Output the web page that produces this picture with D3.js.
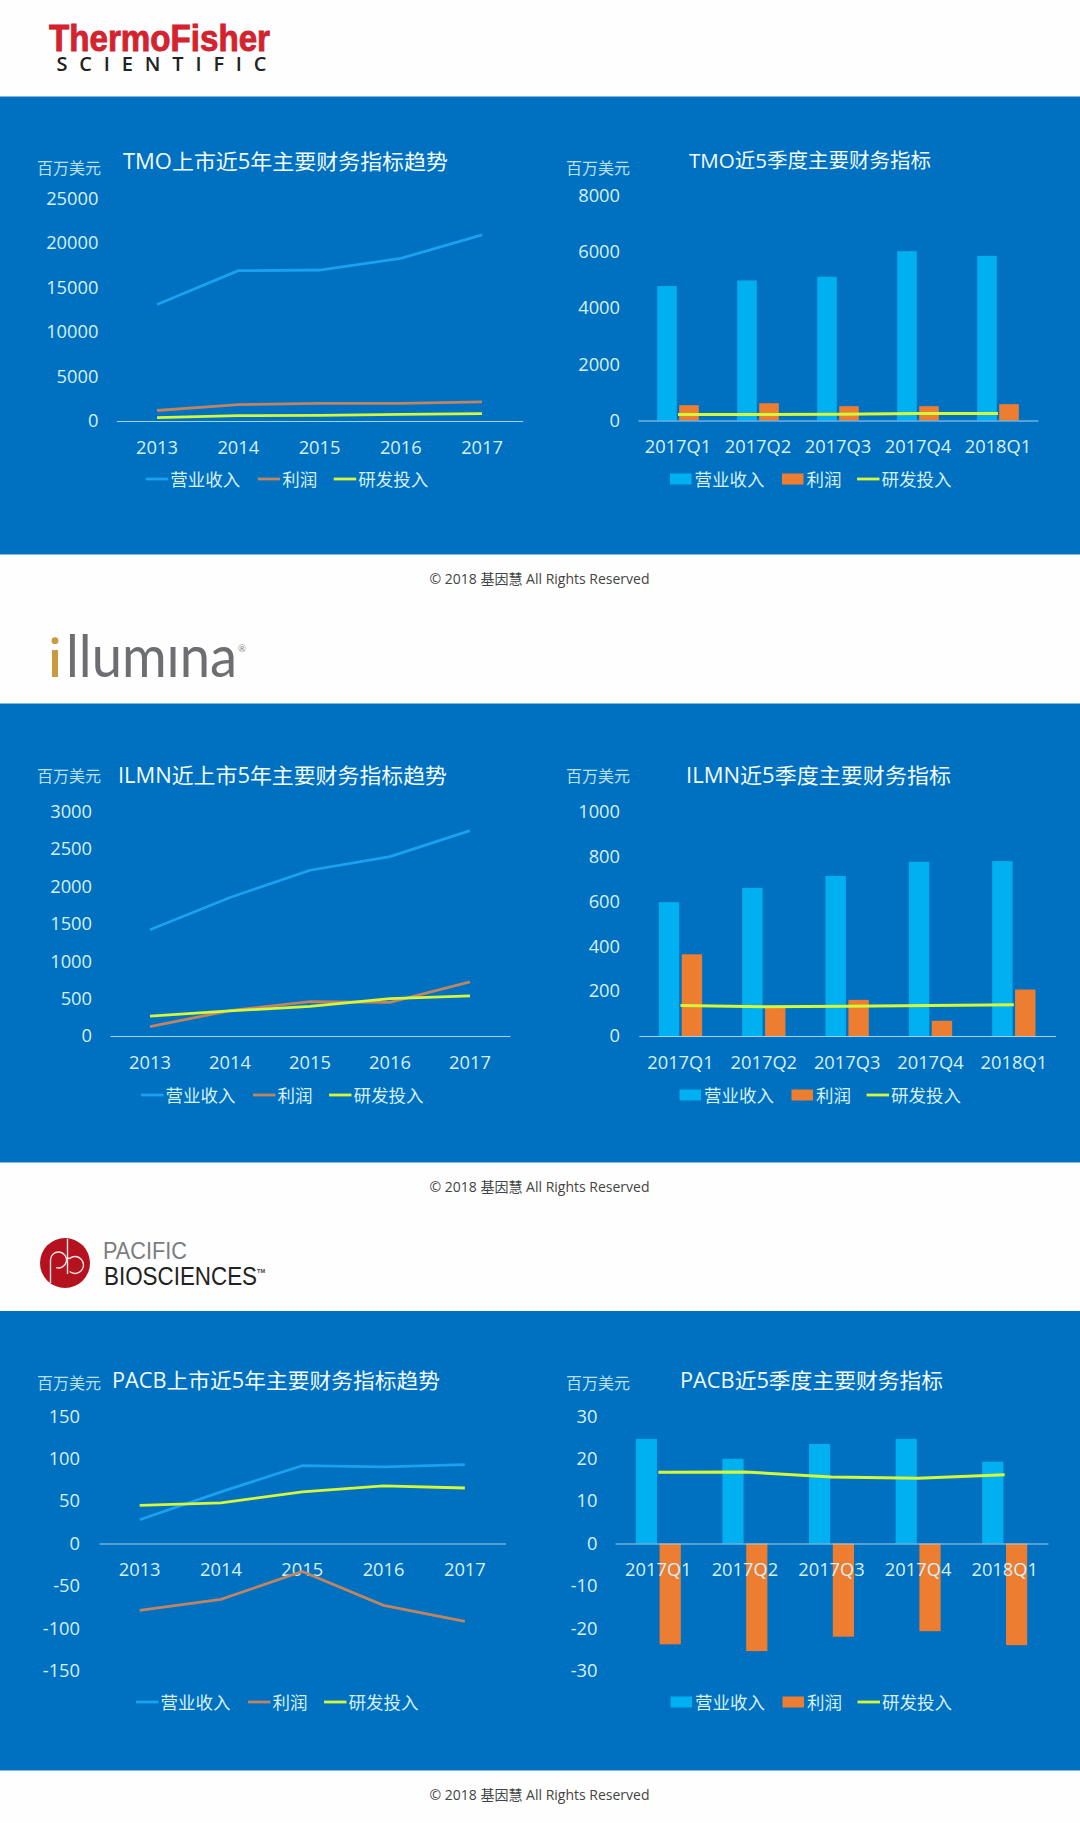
<!DOCTYPE html>
<html>
<head>
<meta charset="utf-8">
<style>
  html, body { margin: 0; padding: 0; background: #fefefe; }
  svg { display: block; }
  text { font-family: "Open Sans", "Noto Sans CJK SC", sans-serif; }
  .axis text { fill: #d6f0f6; font-size: 18.3px; }
  .axis .domain { stroke: #9fd3ee; stroke-width: 1; }
  .title { fill: #f2fbff; }
  .unit { fill: #b9e0f2; font-size: 16px; }
  .legend-label { fill: #d6f0f6; font-size: 17.5px; }
  .footer { fill: #444; font-size: 14px; }
</style>
</head>
<body>
<svg id="page" width="1080" height="1823"></svg>
<script src="https://cdn.jsdelivr.net/npm/d3@7"></script>
<script>
// Categories and legend
const years = ['2013', '2014', '2015', '2016', '2017'];
const quarters = ['2017Q1', '2017Q2', '2017Q3', '2017Q4', '2018Q1'];
const seriesNames = ['营业收入', '利润', '研发投入'];

// Thermo Fisher
const tmoYearRevenue = [13090, 16890, 16965, 18270, 20920];
const tmoYearProfit = [1180, 1840, 1970, 1970, 2140];
const tmoYearRnd = [390, 610, 630, 750, 830];
const tmoQuarterRevenue = [4780, 4980, 5110, 6020, 5855];
const tmoQuarterProfit = [544, 615, 509, 509, 580];
const tmoQuarterRnd = [213, 213, 225, 248, 248];
const tmoYearTicks = [0, 5000, 10000, 15000, 20000, 25000];
const tmoQuarterTicks = [0, 2000, 4000, 6000, 8000];

// Illumina
const ilmnYearRevenue = [1420, 1851, 2215, 2397, 2745];
const ilmnYearProfit = [125, 340, 458, 450, 723];
const ilmnYearRnd = [265, 335, 395, 499, 536];
const ilmnQuarterRevenue = [596, 660, 713, 776, 779];
const ilmnQuarterProfit = [364, 129, 161, 68, 207];
const ilmnQuarterRnd = [136, 130, 133, 136, 139];
const ilmnYearTicks = [0, 500, 1000, 1500, 2000, 2500, 3000];
const ilmnQuarterTicks = [0, 200, 400, 600, 800, 1000];

// Pacific Biosciences
const pacbYearRevenue = [28, 61, 92, 90.5, 93];
const pacbYearProfit = [-79, -66, -33, -73, -92];
const pacbYearRnd = [45, 48, 61, 68, 65.5];
const pacbQuarterRevenue = [24.7, 20, 23.5, 24.7, 19.3];
const pacbQuarterProfit = [-23.8, -25.4, -22, -20.7, -24];
const pacbQuarterRnd = [16.8, 16.9, 15.7, 15.4, 16.2];
const pacbYearTicks = [-150, -100, -50, 0, 50, 100, 150];
const pacbQuarterTicks = [-30, -20, -10, 0, 10, 20, 30];

// Colours
const COLORS = {
    panel: '#0070c0',
    revenueBar: '#00b0f0',
    profitBar: '#ed7d31',
    revenueLine: '#1aa2f0',
    profitLine: '#bd8562',
    rndLine: '#d4f73a'
};

const UNIT_LABEL = '百万美元';
const FOOTER_TEXT = '© 2018 基因慧 All Rights Reserved';

// Chart layouts, one per chart
const charts = [
    {
        title: 'TMO上市近5年主要财务指标趋势', titleX: 123, titleY: 160.5, titleW: 325, titleSize: 21,
        unitX: 37, unitY: 168, left: 116.4, right: 522.7, top: 198.5, bottom: 421, tickGap: 18,
        categories: years, ticks: tmoYearTicks, legendX: 145.7, legendY: 479,
        revenue: tmoYearRevenue, profit: tmoYearProfit, rnd: tmoYearRnd, bars: false
    },
    {
        title: 'TMO近5季度主要财务指标', titleX: 689, titleY: 160.5, titleW: 242, titleSize: 20,
        unitX: 566, unitY: 168, left: 638, right: 1038, top: 195.5, bottom: 420.5, tickGap: 18,
        categories: quarters, ticks: tmoQuarterTicks, legendX: 670, legendY: 479,
        revenue: tmoQuarterRevenue, profit: tmoQuarterProfit, rnd: tmoQuarterRnd, bars: true
    },
    {
        title: 'ILMN近上市5年主要财务指标趋势', titleX: 118, titleY: 775, titleW: 329, titleSize: 21,
        unitX: 37, unitY: 775.5, left: 110, right: 510, top: 811.5, bottom: 1036, tickGap: 18,
        categories: years, ticks: ilmnYearTicks, legendX: 141, legendY: 1095,
        revenue: ilmnYearRevenue, profit: ilmnYearProfit, rnd: ilmnYearRnd, bars: false
    },
    {
        title: 'ILMN近5季度主要财务指标', titleX: 686, titleY: 775, titleW: 265, titleSize: 21,
        unitX: 566, unitY: 775.5, left: 638.8, right: 1055.5, top: 811.5, bottom: 1036, tickGap: 18.8,
        categories: quarters, ticks: ilmnQuarterTicks, legendX: 679.5, legendY: 1095,
        revenue: ilmnQuarterRevenue, profit: ilmnQuarterProfit, rnd: ilmnQuarterRnd, bars: true
    },
    {
        title: 'PACB上市近5年主要财务指标趋势', titleX: 112, titleY: 1380, titleW: 328, titleSize: 21,
        unitX: 37, unitY: 1383, left: 99, right: 505.5, top: 1416.4, bottom: 1670.6, tickGap: 19,
        categories: years, ticks: pacbYearTicks, legendX: 136, legendY: 1702,
        revenue: pacbYearRevenue, profit: pacbYearProfit, rnd: pacbYearRnd, bars: false
    },
    {
        title: 'PACB近5季度主要财务指标', titleX: 680, titleY: 1380, titleW: 263, titleSize: 21,
        unitX: 566, unitY: 1383, left: 615, right: 1048, top: 1416.4, bottom: 1670.6, tickGap: 17.5,
        categories: quarters, ticks: pacbQuarterTicks, legendX: 670.5, legendY: 1702,
        revenue: pacbQuarterRevenue, profit: pacbQuarterProfit, rnd: pacbQuarterRnd, bars: true
    }
];

// Blue bands and the footer under each of them
const panels = [
    { top: 96.5, bottom: 554.5, footerY: 578 },
    { top: 703.5, bottom: 1162.5, footerY: 1186.5 },
    { top: 1311, bottom: 1770.5, footerY: 1794 }
];

const svg = d3.select('#page');

/**
 * Draws the blue bands and the copyright lines
 */
function drawPanels() {
    panels.forEach(panel => {
        svg.append('rect')
            .attr('x', 0)
            .attr('y', panel.top)
            .attr('width', 1080)
            .attr('height', panel.bottom - panel.top)
            .attr('fill', COLORS.panel);

        svg.append('text')
            .attr('class', 'footer')
            .attr('x', 539.5)
            .attr('y', panel.footerY)
            .attr('text-anchor', 'middle')
            .attr('dominant-baseline', 'central')
            .text(FOOTER_TEXT);
    });
}

/**
 * Logos, rebuilt from plain text and shapes
 */
function drawLogos() {
    const addText = (label, x, y, size, width, fill, family, weight) => svg.append('text')
        .attr('x', x)
        .attr('y', y)
        .attr('textLength', width)
        .attr('lengthAdjust', 'spacingAndGlyphs')
        .attr('fill', fill)
        .style('font-family', family)
        .style('font-size', `${size}px`)
        .style('font-weight', weight)
        .text(label);

    // Thermo Fisher
    addText('ThermoFisher', 49, 51, 36, 221, '#d2232f', '"Liberation Sans"', 700)
        .attr('stroke', '#d2232f')
        .attr('stroke-width', 0.9);
    svg.append('text')
        .attr('x', 56.5)
        .attr('y', 71)
        .attr('textLength', 210)
        .attr('lengthAdjust', 'spacing')
        .attr('fill', '#222')
        .style('font-family', '"Open Sans"')
        .style('font-size', '20px')
        .style('font-weight', 600)
        .text('SCIENTIFIC');

    // Illumina
    svg.append('rect').attr('x', 52).attr('y', 650).attr('width', 6).attr('height', 27).attr('fill', '#c99a3f');
    svg.append('circle').attr('cx', 55).attr('cy', 640.7).attr('r', 3.4).attr('fill', '#c99a3f');
    addText('llumına', 66, 677, 58, 171, '#6d6e71', 'Lato', 400);
    addText('®', 238, 652, 9, 8, '#8a8a8a', 'Lato', 400);

    // Pacific Biosciences
    svg.append('circle').attr('cx', 65).attr('cy', 1263).attr('r', 25).attr('fill', '#b5121f');
    const mark = d3.path();
    mark.moveTo(50.5, 1283);
    mark.lineTo(50.5, 1260);
    mark.arc(58.5, 1260, 8, Math.PI, Math.PI * 2.6);
    mark.moveTo(67.5, 1239);
    mark.lineTo(67.5, 1274);
    mark.moveTo(67.5, 1258);
    mark.arc(75, 1265, 8.5, -Math.PI * 0.72, Math.PI * 0.72);
    svg.append('path')
        .attr('d', mark.toString())
        .attr('fill', 'none')
        .attr('stroke', '#f7e3e3')
        .attr('stroke-width', 1.4);
    addText('PACIFIC', 103, 1258.5, 24, 84, '#7b7d80', '"Liberation Sans"', 400);
    addText('BIOSCIENCES', 104, 1284.5, 25, 153, '#222', '"Liberation Sans"', 400);
    addText('TM', 257, 1273, 6, 8, '#444', '"Liberation Sans"', 700);
}

/**
 * Draws one chart from its layout entry
 */
function drawChart(chart) {
    const x = d3.scaleBand()
        .domain(chart.categories)
        .range([chart.left, chart.right]);

    const y = d3.scaleLinear()
        .domain(d3.extent(chart.ticks))
        .range([chart.bottom, chart.top]);

    const rows = chart.categories.map((category, i) => ({
        category,
        revenue: chart.revenue[i],
        profit: chart.profit[i],
        rnd: chart.rnd[i]
    }));

    // Bars go under the axis labels
    if (chart.bars) {
        const groupWidth = x.bandwidth() * 0.52;
        const inner = d3.scaleBand()
            .domain(['revenue', 'profit'])
            .range([-groupWidth / 2, groupWidth / 2])
            .paddingInner(0.11);

        [['revenue', COLORS.revenueBar], ['profit', COLORS.profitBar]].forEach(([key, color]) => {
            svg.append('g')
                .selectAll('rect')
                .data(rows)
                .join('rect')
                .attr('x', d => x(d.category) + x.bandwidth() / 2 + inner(key))
                .attr('width', inner.bandwidth())
                .attr('y', d => Math.min(y(0), y(d[key])))
                .attr('height', d => Math.abs(y(0) - y(d[key])))
                .attr('fill', color);
        });
    }

    // Axes
    svg.append('g')
        .attr('class', 'axis')
        .attr('transform', `translate(${chart.left},0)`)
        .call(d3.axisLeft(y).tickValues(chart.ticks).tickFormat(d => String(d)).tickSize(0).tickPadding(chart.tickGap))
        .call(g => g.select('.domain').remove());

    svg.append('g')
        .attr('class', 'axis')
        .attr('transform', `translate(0,${y(0)})`)
        .call(d3.axisBottom(x).tickSize(0).tickPadding(20));

    // Lines
    const line = key => d3.line()
        .x(d => x(d.category) + x.bandwidth() / 2)
        .y(d => y(d[key]))(rows);

    const lineKeys = chart.bars
        ? [['rnd', COLORS.rndLine, 3]]
        : [['revenue', COLORS.revenueLine, 2.8], ['profit', COLORS.profitLine, 2.8], ['rnd', COLORS.rndLine, 2.8]];

    lineKeys.forEach(([key, color, width]) => {
        svg.append('path')
            .attr('d', line(key))
            .attr('fill', 'none')
            .attr('stroke', color)
            .attr('stroke-width', width);
    });

    // Title and unit
    svg.append('text')
        .attr('class', 'title')
        .attr('x', chart.titleX)
        .attr('y', chart.titleY)
        .attr('dominant-baseline', 'central')
        .attr('textLength', chart.titleW)
        .attr('lengthAdjust', 'spacingAndGlyphs')
        .style('font-size', `${chart.titleSize}px`)
        .text(chart.title);

    svg.append('text')
        .attr('class', 'unit')
        .attr('x', chart.unitX)
        .attr('y', chart.unitY)
        .attr('dominant-baseline', 'central')
        .text(UNIT_LABEL);

    drawLegend(chart);
}

/**
 * Draws the legend row of a chart
 */
function drawLegend(chart) {
    const entries = [
        { label: seriesNames[0], step: 112, bar: chart.bars, color: chart.bars ? COLORS.revenueBar : COLORS.revenueLine },
        { label: seriesNames[1], step: chart.bars ? 75 : 76, bar: chart.bars, color: chart.bars ? COLORS.profitBar : COLORS.profitLine },
        { label: seriesNames[2], step: 0, bar: false, color: COLORS.rndLine }
    ];

    let cursor = chart.legendX;
    entries.forEach(entry => {
        if (entry.bar) {
            svg.append('rect')
                .attr('x', cursor)
                .attr('y', chart.legendY - 5.5)
                .attr('width', 21.5)
                .attr('height', 11)
                .attr('fill', entry.color);
        } else {
            svg.append('line')
                .attr('x1', cursor)
                .attr('x2', cursor + 22.5)
                .attr('y1', chart.legendY)
                .attr('y2', chart.legendY)
                .attr('stroke', entry.color)
                .attr('stroke-width', 2.8);
        }
        svg.append('text')
            .attr('class', 'legend-label')
            .attr('x', cursor + 24.5)
            .attr('y', chart.legendY)
            .attr('dominant-baseline', 'central')
            .text(entry.label);
        cursor += entry.step;
    });
}

drawPanels();
drawLogos();
charts.forEach(drawChart);
</script>
</body>
</html>
